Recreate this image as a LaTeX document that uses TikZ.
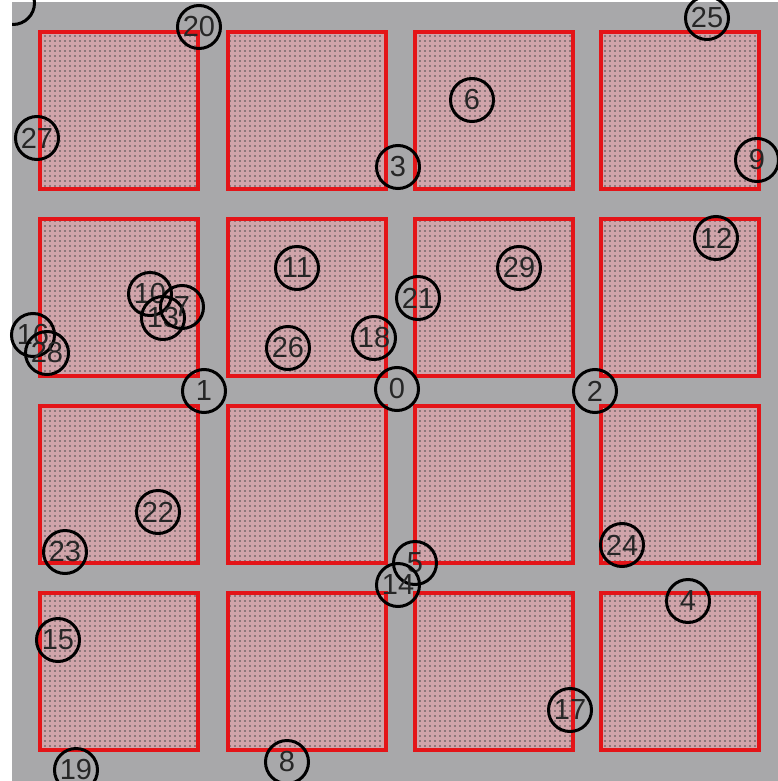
\documentclass[tikz,border=0pt]{standalone}
\usepackage{fontspec}
\setmainfont{Liberation Sans}
\usetikzlibrary{patterns.meta}
\definecolor{bggray}{RGB}{168,168,170}
\definecolor{padfill}{RGB}{208,164,170}
\definecolor{padred}{RGB}{228,20,24}
\tikzset{
  paddots/.style={pattern={Dots[radius=0.95pt, distance=5pt]}, pattern color=black!70},
  nd/.style={circle, draw=black, line width=3pt, minimum size=43pt, inner sep=0pt,
    font=\fontsize{29}{29}\selectfont, text=black!85},
}
\begin{document}
\begin{tikzpicture}[x=1pt,y=-1pt]
\useasboundingbox (0,0) rectangle (778,781);
\fill[white] (0,0) rectangle (778,781);
\fill[bggray] (12,2) rectangle (778,781);
% pads
\foreach \cx in {40,228,415,601}{
  \foreach \cy in {32,219,406,593}{
    \fill[padfill] (\cx,\cy) rectangle ++(158,157);
    \fill[paddots] (\cx,\cy) rectangle ++(158,157);
    \draw[draw=padred, line width=3.6pt] (\cx,\cy) rectangle ++(158,157);
  }
}
% circles
\begin{scope}
\clip (12,0) rectangle (778,781);
\node[nd] (ntl) at (13,3) {};
\end{scope}
\node[nd] (n20) at (199,27) {20};
\node[nd] (n25) at (707,18) {25};
\node[nd] (n27) at (37,138) {27};
\node[nd] (n6) at (472,100) {6};
\node[nd] (n9) at (757,160) {9};
\node[nd] (n3) at (398,167) {3};
\node[nd] (n12) at (716,238) {12};
\node[nd] (n11) at (297,268) {11};
\node[nd] (n29) at (519,268) {29};
\node[nd] (n21) at (418,298) {21};
\node[nd] (n10) at (150,294) {10};
\node[nd] (n13) at (163,318) {13};
\node[nd] (n7) at (182,307) {7};
\node[nd] (n16) at (33,335) {16};
\node[nd] (n28) at (47,353) {28};
\node[nd] (n18) at (374,338) {18};
\node[nd] (n26) at (288,348) {26};
\node[nd] (n1) at (204,391) {1};
\node[nd] (n0) at (397,389) {0};
\node[nd] (n2) at (595,391) {2};
\node[nd] (n22) at (158,512) {22};
\node[nd] (n23) at (65,552) {23};
\node[nd] (n24) at (622,545) {24};
\node[nd] (n5) at (415,563) {5};
\node[nd] (n14) at (398,585) {14};
\node[nd] (n4) at (688,601) {4};
\node[nd] (n15) at (58,640) {15};
\node[nd] (n17) at (570,710) {17};
\node[nd] (n19) at (76,770) {19};
\node[nd] (n8) at (287,762) {8};
\end{tikzpicture}
\end{document}
